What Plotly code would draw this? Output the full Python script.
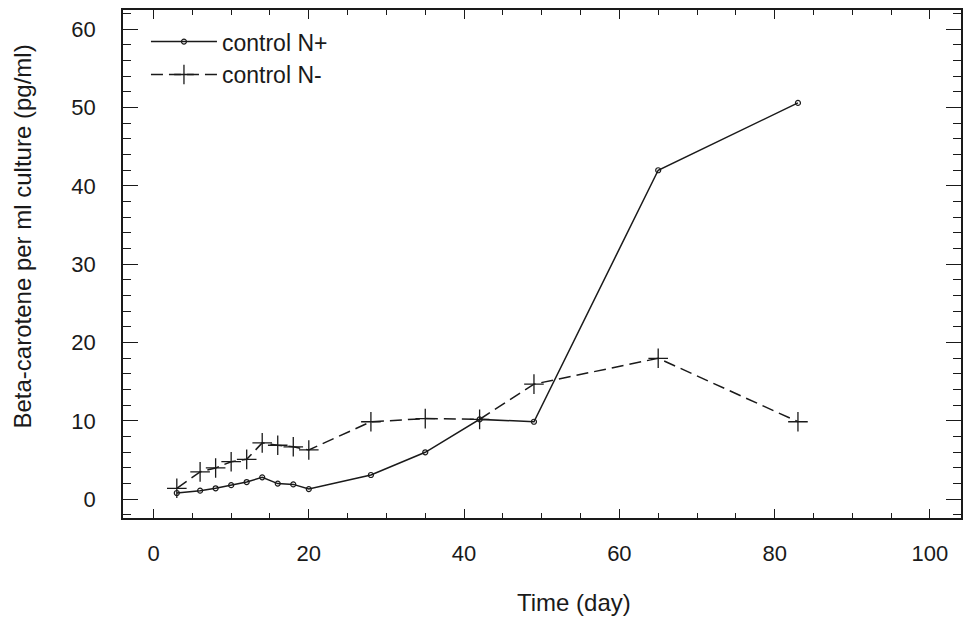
import plotly.graph_objects as go

# Sampling days (day of culture)
days = [3, 6, 8, 10, 12, 14, 16, 18, 20, 28, 35, 42, 49, 65, 83]

# Beta-carotene per ml culture (pg/ml)
control_n_plus = [0.8, 1.1, 1.4, 1.8, 2.2, 2.8, 2.0, 1.9, 1.3, 3.1, 6.0, 10.2, 9.9, 42.0, 50.6]
control_n_minus = [1.4, 3.5, 4.0, 4.8, 5.1, 7.2, 6.9, 6.7, 6.3, 9.9, 10.3, 10.2, 14.7, 18.0, 9.9]

series_names = ["control N+", "control N-"]

x_ticks = [0, 20, 40, 60, 80, 100]
y_ticks = [0, 10, 20, 30, 40, 50, 60]

FONT = "Liberation Sans, Arial, Helvetica, sans-serif"
INK = "#1a1a1a"

fig = go.Figure()

fig.add_trace(go.Scatter(
    x=days, y=control_n_plus, name=series_names[0], mode="lines+markers",
    line=dict(color=INK, width=1.5),
    marker=dict(symbol="circle-open", size=5, color=INK, line=dict(width=1.2)),
    legendgroup="a",
))
fig.add_trace(go.Scatter(
    x=days, y=control_n_minus, name=series_names[1], mode="lines+markers",
    line=dict(color=INK, width=1.5, dash="12px,6px"),
    marker=dict(symbol="cross-thin-open", size=14, color=INK, line=dict(width=1.3, color=INK)),
    legendgroup="b",
))

axis_common = dict(
    showgrid=False, zeroline=False, showline=True, linecolor=INK, linewidth=1.5,
    mirror="allticks", ticks="inside", tickcolor=INK, tickwidth=1.3,
    tickfont=dict(family=FONT, size=22, color=INK),
)

fig.update_xaxes(
    range=[-3.93, 104], tickvals=x_ticks, ticklen=9, ticklabelstandoff=15,
    minor=dict(dtick=5, tick0=0, ticks="inside", ticklen=5, tickcolor=INK, tickwidth=1.1),
    **axis_common,
)
fig.update_yaxes(
    range=[-2.39, 62.46], tickvals=y_ticks, ticklen=15, ticklabelstandoff=21,
    minor=dict(dtick=2, tick0=0, ticks="inside", ticklen=8, tickcolor=INK, tickwidth=1.1),
    **axis_common,
)

fig.update_layout(
    width=968, height=618,
    margin=dict(l=123, r=5, t=10, b=100),
    paper_bgcolor="white", plot_bgcolor="white",
    font=dict(family=FONT, color=INK),
    showlegend=True,
    legend=dict(
        x=0.0274, y=0.980, xanchor="left", yanchor="top",
        bgcolor="rgba(0,0,0,0)", font=dict(family=FONT, size=23, color=INK),
        tracegroupgap=0, itemwidth=66,
    ),
    annotations=[
        dict(text="Time (day)", xref="paper", yref="paper", x=0.538, y=-0.167,
             xanchor="center", yanchor="middle", showarrow=False,
             font=dict(family=FONT, size=24, color=INK)),
        dict(text="Beta-carotene per ml culture (pg/ml)", xref="paper", yref="paper",
             x=-0.120, y=0.555, xanchor="center", yanchor="middle", textangle=-90,
             showarrow=False, font=dict(family=FONT, size=24, color=INK)),
    ],
)

fig.write_html("out.html")
